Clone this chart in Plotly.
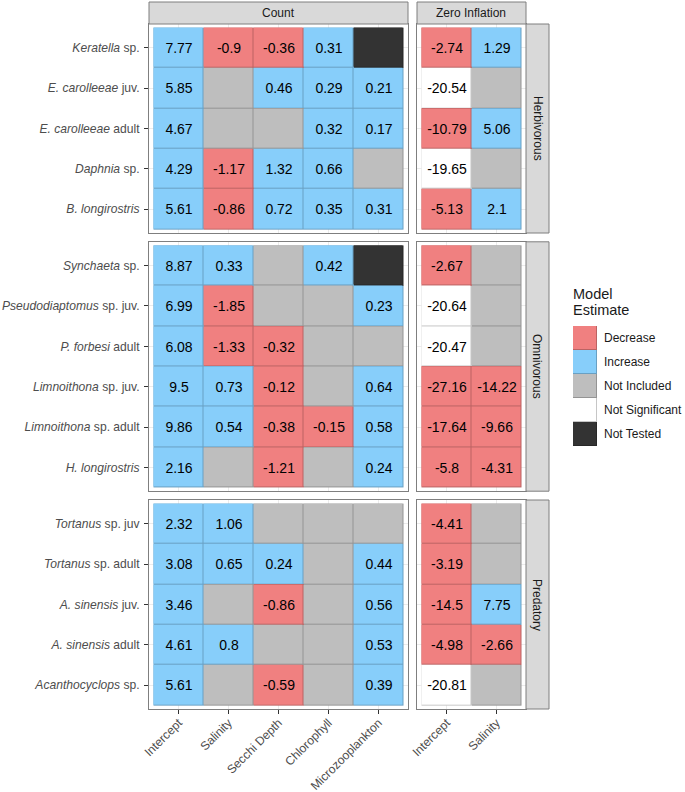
import plotly.graph_objects as go

W, H = 685, 792
FONT = "Liberation Sans, Arial, sans-serif"

# ---------------- data ----------------
count_predictors = ["Intercept", "Salinity", "Secchi Depth", "Chlorophyll", "Microzooplankton"]
zero_predictors = ["Intercept", "Salinity"]
groups = ["Herbivorous", "Omnivorous", "Predatory"]
legend_labels = ["Decrease", "Increase", "Not Included", "Not Significant", "Not Tested"]
legend_codes = ["D", "I", "NI", "NS", "NT"]
legend_colors = ["#F08080", "#87CEFA", "#BEBEBE", "#FFFFFF", "#333333"]

herb_species = ["<i>Keratella</i> sp.", "<i>E. carolleeae</i> juv.", "<i>E. carolleeae</i> adult",
                "<i>Daphnia</i> sp.", "<i>B. longirostris</i>"]
herb_count_values = [[7.77, -0.9, -0.36, 0.31, None],
                     [5.85, None, 0.46, 0.29, 0.21],
                     [4.67, None, None, 0.32, 0.17],
                     [4.29, -1.17, 1.32, 0.66, None],
                     [5.61, -0.86, 0.72, 0.35, 0.31]]
herb_count_status = [["I", "D", "D", "I", "NT"],
                     ["I", "NI", "I", "I", "I"],
                     ["I", "NI", "NI", "I", "I"],
                     ["I", "D", "I", "I", "NI"],
                     ["I", "D", "I", "I", "I"]]
herb_zero_values = [[-2.74, 1.29], [-20.54, None], [-10.79, 5.06], [-19.65, None], [-5.13, 2.1]]
herb_zero_status = [["D", "I"], ["NS", "NI"], ["D", "I"], ["NS", "NI"], ["D", "I"]]

omni_species = ["<i>Synchaeta</i> sp.", "<i>Pseudodiaptomus</i> sp. juv.", "<i>P. forbesi</i> adult",
                "<i>Limnoithona</i> sp. juv.", "<i>Limnoithona</i> sp. adult", "<i>H. longirostris</i>"]
omni_count_values = [[8.87, 0.33, None, 0.42, None],
                     [6.99, -1.85, None, None, 0.23],
                     [6.08, -1.33, -0.32, None, None],
                     [9.5, 0.73, -0.12, None, 0.64],
                     [9.86, 0.54, -0.38, -0.15, 0.58],
                     [2.16, None, -1.21, None, 0.24]]
omni_count_status = [["I", "I", "NI", "I", "NT"],
                     ["I", "D", "NI", "NI", "I"],
                     ["I", "D", "D", "NI", "NI"],
                     ["I", "I", "D", "NI", "I"],
                     ["I", "I", "D", "D", "I"],
                     ["I", "NI", "D", "NI", "I"]]
omni_zero_values = [[-2.67, None], [-20.64, None], [-20.47, None], [-27.16, -14.22], [-17.64, -9.66], [-5.8, -4.31]]
omni_zero_status = [["D", "NI"], ["NS", "NI"], ["NS", "NI"], ["D", "D"], ["D", "D"], ["D", "D"]]

pred_species = ["<i>Tortanus</i> sp. juv", "<i>Tortanus</i> sp. adult", "<i>A. sinensis</i> juv.",
                "<i>A. sinensis</i> adult", "<i>Acanthocyclops</i> sp."]
pred_count_values = [[2.32, 1.06, None, None, None],
                     [3.08, 0.65, 0.24, None, 0.44],
                     [3.46, None, -0.86, None, 0.56],
                     [4.61, 0.8, None, None, 0.53],
                     [5.61, None, -0.59, None, 0.39]]
pred_count_status = [["I", "I", "NI", "NI", "NI"],
                     ["I", "I", "I", "NI", "I"],
                     ["I", "NI", "D", "NI", "I"],
                     ["I", "I", "NI", "NI", "I"],
                     ["I", "NI", "D", "NI", "I"]]
pred_zero_values = [[-4.41, None], [-3.19, None], [-14.5, 7.75], [-4.98, -2.66], [-20.81, None]]
pred_zero_status = [["D", "NI"], ["D", "NI"], ["D", "I"], ["D", "D"], ["NS", "NI"]]

panels = [
    (herb_species, [(herb_count_values, herb_count_status), (herb_zero_values, herb_zero_status)]),
    (omni_species, [(omni_count_values, omni_count_status), (omni_zero_values, omni_zero_status)]),
    (pred_species, [(pred_count_values, pred_count_status), (pred_zero_values, pred_zero_status)]),
]
col_predictors = [count_predictors, zero_predictors]
col_titles = ["Count", "Zero Inflation"]

# ---------------- styling helpers ----------------
def darken(hexcol, f=0.78):
    h = hexcol.lstrip("#")
    r, g, b = (int(h[i:i + 2], 16) for i in (0, 2, 4))
    return "#%02X%02X%02X" % (int(r * f), int(g * f), int(b * f))

def step_scale(colors):
    n = len(colors)
    sc = []
    for i, c in enumerate(colors):
        sc.append([i / n, c])
        sc.append([(i + 1) / n, c])
    return sc

fill_scale = step_scale(legend_colors)
edge_scale = step_scale([darken(c) for c in legend_colors])

def px_x(p):
    return p / W

def px_y(p):
    return 1 - p / H

EXP = 0.09
col_px = [(149, 408), (417, 526)]
row_px = [(24, 233), (241.8, 491.2), (500, 709)]
strip_top = (2, 24)
rstrip_x = (526, 549)

fig = go.Figure()
layout = {}
GRID = "#EBEBEB"
BORDER = "#7F7F7F"
TICKFONT = dict(size=12.1, color="#4D4D4D", family=FONT)

def axname(kind, idx):
    return kind + ("" if idx == 1 else str(idx))

for g, (species, cols) in enumerate(panels):
    for c, (vals, stats) in enumerate(cols):
        idx = g * 2 + c + 1
        preds = col_predictors[c]
        z = [[legend_codes.index(s) for s in row] for row in stats]
        txt = [["" if v is None else f"{v:g}" for v in row] for row in vals]
        xs = list(range(len(preds)))
        ys = list(range(len(species)))
        common = dict(x=xs, y=ys, z=z, zmin=-0.5, zmax=len(legend_codes) - 0.5,
                      showscale=False, hoverinfo="skip",
                      xaxis=axname("x", idx), yaxis=axname("y", idx))
        fig.add_trace(go.Heatmap(colorscale=edge_scale, **common))
        fig.add_trace(go.Heatmap(colorscale=fill_scale, xgap=1, ygap=1, text=txt,
                                 texttemplate="%{text}",
                                 textfont=dict(size=14, color="black", family=FONT), **common))
        bottom = g == len(panels) - 1
        left = c == 0
        layout[axname("xaxis", idx)] = dict(
            domain=[px_x(col_px[c][0]), px_x(col_px[c][1])], anchor=axname("y", idx),
            range=[-0.5 - EXP, len(preds) - 0.5 + EXP], tickmode="array", tickvals=xs,
            ticktext=preds, showticklabels=bottom, ticks="outside" if bottom else "",
            ticklen=4, tickcolor="#333333", tickangle=-45, tickfont=TICKFONT,
            ticklabelstandoff=-3,
            showgrid=True, gridcolor=GRID, gridwidth=1, zeroline=False,
            showline=True, mirror=True, linecolor=BORDER, linewidth=1,
            automargin=False, fixedrange=True)
        layout[axname("yaxis", idx)] = dict(
            domain=[px_y(row_px[g][1]), px_y(row_px[g][0])], anchor=axname("x", idx),
            range=[len(species) - 0.5 + EXP, -0.5 - EXP], tickmode="array", tickvals=ys,
            ticktext=species, showticklabels=left, ticks="outside" if left else "",
            ticklen=4, tickcolor="#333333", ticklabelstandoff=2, tickfont=TICKFONT,
            showgrid=True, gridcolor=GRID, gridwidth=1, zeroline=False,
            showline=True, mirror=True, linecolor=BORDER, linewidth=1,
            automargin=False, fixedrange=True)

# ---------------- legend as a small heatmap ----------------
LID = 7
lz = [[i] for i in range(len(legend_labels))]
lcommon = dict(x=[0], y=list(range(len(legend_labels))), z=lz, zmin=-0.5,
               zmax=len(legend_codes) - 0.5, showscale=False, hoverinfo="skip",
               xaxis=axname("x", LID), yaxis=axname("y", LID))
fig.add_trace(go.Heatmap(colorscale=edge_scale, **lcommon))
fig.add_trace(go.Heatmap(colorscale=fill_scale, xgap=1, ygap=1, **lcommon))
layout[axname("xaxis", LID)] = dict(domain=[px_x(573), px_x(597)], anchor=axname("y", LID),
                                    range=[-0.5, 0.5], visible=False, fixedrange=True)
layout[axname("yaxis", LID)] = dict(domain=[px_y(446), px_y(326)], anchor=axname("x", LID),
                                    range=[len(legend_labels) - 0.5, -0.5], side="right",
                                    tickmode="array", tickvals=list(range(len(legend_labels))),
                                    ticktext=legend_labels, ticks="", showgrid=False,
                                    showline=False, zeroline=False, ticklabelstandoff=6,
                                    tickfont=dict(size=12, color="#1A1A1A", family=FONT),
                                    automargin=False, fixedrange=True)

# ---------------- strips ----------------
shapes = []
annotations = []
STRIP_FILL = "#D9D9D9"
for c, title in enumerate(col_titles):
    x0, x1 = col_px[c]
    shapes.append(dict(type="rect", xref="paper", yref="paper", x0=px_x(x0), x1=px_x(x1),
                       y0=px_y(strip_top[1]), y1=px_y(strip_top[0]),
                       fillcolor=STRIP_FILL, line=dict(color=BORDER, width=1), layer="above"))
    annotations.append(dict(xref="paper", yref="paper", x=px_x((x0 + x1) / 2),
                            y=px_y((strip_top[0] + strip_top[1]) / 2), text=title,
                            showarrow=False, font=dict(size=12, color="#1A1A1A", family=FONT),
                            xanchor="center", yanchor="middle"))
for g, name in enumerate(groups):
    y0, y1 = row_px[g]
    shapes.append(dict(type="rect", xref="paper", yref="paper", x0=px_x(rstrip_x[0]),
                       x1=px_x(rstrip_x[1]), y0=px_y(y1), y1=px_y(y0),
                       fillcolor=STRIP_FILL, line=dict(color=BORDER, width=1), layer="above"))
    annotations.append(dict(xref="paper", yref="paper", x=px_x((rstrip_x[0] + rstrip_x[1]) / 2),
                            y=px_y((y0 + y1) / 2), text=name, textangle=90,
                            showarrow=False, font=dict(size=12, color="#1A1A1A", family=FONT),
                            xanchor="center", yanchor="middle"))

annotations.append(dict(xref="paper", yref="paper", x=px_x(571), y=px_y(284), text="Model",
                        showarrow=False, xanchor="left", yanchor="top",
                        font=dict(size=14.5, color="#1A1A1A", family=FONT)))
annotations.append(dict(xref="paper", yref="paper", x=px_x(571), y=px_y(300), text="Estimate",
                        showarrow=False, xanchor="left", yanchor="top",
                        font=dict(size=14.5, color="#1A1A1A", family=FONT)))

fig.update_layout(template="none", width=W, height=H,
                  margin=dict(l=0, r=0, t=0, b=0, pad=0),
                  paper_bgcolor="white", plot_bgcolor="white",
                  font=dict(family=FONT), showlegend=False,
                  shapes=shapes, annotations=annotations, **layout)

fig.write_html("out.html", config={"displayModeBar": False, "staticPlot": True},
               post_script="document.body.style.margin='0';document.body.style.overflow='hidden';")
